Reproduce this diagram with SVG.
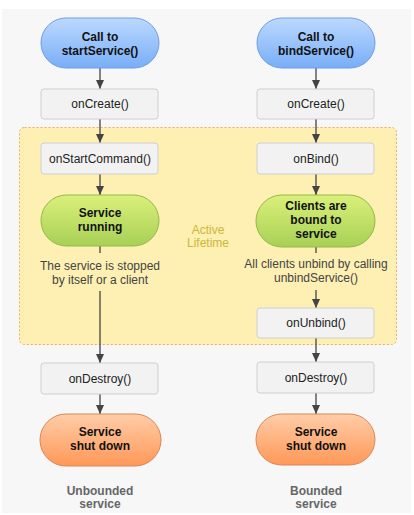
<svg xmlns="http://www.w3.org/2000/svg" width="414" height="515" viewBox="0 0 414 515">
<style>
text{font-family:"Liberation Sans",Arial,sans-serif;font-size:12px;text-anchor:middle}
.b{font-weight:bold;fill:#111}
.r{fill:#222}
.note{fill:#444}
.cap{font-weight:bold;fill:#666}
.box{fill:#f2f2f2;stroke:#cfcfcf;stroke-width:1}
.blue{fill:url(#gb);stroke:#6f9de6;stroke-width:1}
.green{fill:url(#gg);stroke:#95b84a;stroke-width:1}
.orange{fill:url(#go);stroke:#d98754;stroke-width:1}
.c{stroke:#444;stroke-width:1.3;fill:none}
.a{marker-end:url(#ah)}
</style>
<defs>
<linearGradient id="gb" x1="0" y1="0" x2="0" y2="1"><stop offset="0" stop-color="#bcd9ff"/><stop offset="1" stop-color="#78aef7"/></linearGradient>
<linearGradient id="gg" x1="0" y1="0" x2="0" y2="1"><stop offset="0" stop-color="#daf07a"/><stop offset="1" stop-color="#a8d056"/></linearGradient>
<linearGradient id="go" x1="0" y1="0" x2="0" y2="1"><stop offset="0" stop-color="#ffcda8"/><stop offset="1" stop-color="#ff9858"/></linearGradient>
<marker id="ah" markerUnits="userSpaceOnUse" markerWidth="10" markerHeight="10" refX="9" refY="4.5" orient="auto"><path d="M0,0.5 L9,4.5 L0,8.5 Z" fill="#444"/></marker>
</defs>
<rect x="2" y="9" width="409" height="504" fill="#f7f7f7"/>
<g id="active-lifetime">
<rect x="19.5" y="127.5" width="377" height="217" rx="5" fill="#feefb3" stroke="#e8ad64" stroke-width="1" stroke-dasharray="2,2"/>
<text x="208" y="234" style="fill:#cbb83a">Active</text>
<text x="208" y="247" style="fill:#cbb83a">Lifetime</text>
</g>
<g id="connectors">
<path class="c a" d="M100,68 V89"/>
<path class="c a" d="M100,119 V143"/>
<path class="c a" d="M100,174 V195"/>
<path class="c" d="M100,246 V253"/>
<path class="c a" d="M100,291 V363"/>
<path class="c a" d="M100,394 V414"/>
<path class="c a" d="M316,68 V89"/>
<path class="c a" d="M316,119 V143"/>
<path class="c a" d="M316,174 V195"/>
<path class="c" d="M316,247 V253"/>
<path class="c a" d="M316,290 V308"/>
<path class="c a" d="M316,338 V362"/>
<path class="c a" d="M316,393 V414"/>
</g>
<g id="call-start"><rect class="blue" x="41" y="18" width="118" height="50" rx="25"/><text class="b" x="100" y="41">Call to</text><text class="b" x="100" y="55">startService()</text></g>
<g id="oncreate-left"><rect class="box" x="41" y="89" width="117" height="30" rx="3"/><text class="r" x="100" y="108">onCreate()</text></g>
<g id="onstartcommand"><rect class="box" x="41" y="143" width="117" height="31" rx="3"/><text class="r" x="100" y="163">onStartCommand()</text></g>
<g id="service-running"><rect class="green" x="41" y="195" width="118" height="51" rx="25.5"/><text class="b" x="100" y="217">Service</text><text class="b" x="100" y="231">running</text></g>
<g id="note-left"><text class="note" x="100" y="270">The service is stopped</text><text class="note" x="100" y="284">by itself or a client</text></g>
<g id="ondestroy-left"><rect class="box" x="41" y="363" width="117" height="31" rx="3"/><text class="r" x="100" y="383">onDestroy()</text></g>
<g id="shutdown-left"><rect class="orange" x="40" y="414" width="121" height="52" rx="26"/><text class="b" x="100" y="436">Service</text><text class="b" x="100" y="450">shut down</text></g>
<g id="label-left"><text class="cap" x="100" y="495">Unbounded</text><text class="cap" x="100" y="508">service</text></g>
<g id="call-bind"><rect class="blue" x="257" y="18" width="118" height="50" rx="25"/><text class="b" x="316" y="41">Call to</text><text class="b" x="316" y="55">bindService()</text></g>
<g id="oncreate-right"><rect class="box" x="257" y="89" width="117" height="30" rx="3"/><text class="r" x="316" y="108">onCreate()</text></g>
<g id="onbind"><rect class="box" x="257" y="143" width="117" height="31" rx="3"/><text class="r" x="316" y="163">onBind()</text></g>
<g id="clients-bound"><rect class="green" x="256" y="195" width="119" height="52" rx="26"/><text class="b" x="316" y="210">Clients are</text><text class="b" x="316" y="224">bound to</text><text class="b" x="316" y="238">service</text></g>
<g id="note-right"><text class="note" x="316" y="268">All clients unbind by calling</text><text class="note" x="316" y="282">unbindService()</text></g>
<g id="onunbind"><rect class="box" x="257" y="308" width="117" height="30" rx="3"/><text class="r" x="316" y="327">onUnbind()</text></g>
<g id="ondestroy-right"><rect class="box" x="257" y="362" width="117" height="31" rx="3"/><text class="r" x="316" y="382">onDestroy()</text></g>
<g id="shutdown-right"><rect class="orange" x="256" y="414" width="119" height="51" rx="25.5"/><text class="b" x="316" y="436">Service</text><text class="b" x="316" y="450">shut down</text></g>
<g id="label-right"><text class="cap" x="316" y="495">Bounded</text><text class="cap" x="316" y="508">service</text></g>
</svg>
